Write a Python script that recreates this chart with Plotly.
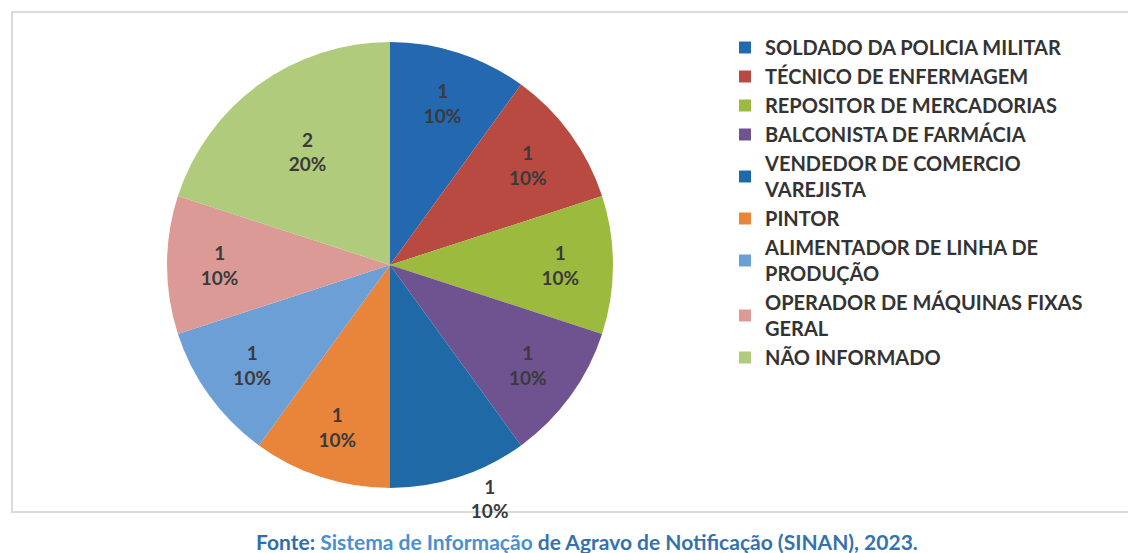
import plotly.graph_objects as go

ocupacoes = [
    "SOLDADO DA POLICIA MILITAR",
    "TÉCNICO DE ENFERMAGEM",
    "REPOSITOR DE MERCADORIAS",
    "BALCONISTA DE FARMÁCIA",
    "VENDEDOR DE COMERCIO<br>VAREJISTA",
    "PINTOR",
    "ALIMENTADOR DE LINHA DE<br>PRODUÇÃO",
    "OPERADOR DE MÁQUINAS FIXAS<br>GERAL",
    "NÃO INFORMADO",
]
casos = [1, 1, 1, 1, 1, 1, 1, 1, 2]

cores = ["#2468b0", "#b84a41", "#9bba3e", "#6f5290", "#1f6aa6",
         "#e9853b", "#6c9fd6", "#dc9a96", "#b0cb7c"]

posicoes = ["inside", "inside", "inside", "inside", "outside",
            "inside", "inside", "inside", "inside"]

W, H = 1128, 553

fig = go.Figure(go.Pie(
    labels=ocupacoes,
    values=casos,
    sort=False,
    direction="clockwise",
    rotation=0,
    marker=dict(colors=cores, line=dict(width=0)),
    texttemplate="%{value}<br>%{percent:.0%}",
    textposition=posicoes,
    insidetextorientation="horizontal",
    textfont=dict(family="Lato", size=19, color="#3a3a3a", weight="bold"),
    domain=dict(x=[167/W, 613/W], y=[(H-488)/H, (H-42)/H]),
    hoverinfo="label+value+percent",
))

# moldura do gráfico
fig.add_shape(type="rect", xref="paper", yref="paper",
              x0=12/W, x1=1.02, y0=(H-512)/H, y1=(H-12)/H,
              line=dict(color="#dadada", width=2), layer="below")

fig.add_annotation(
    text=("<span style='color:#2f6ea8'>Fonte:</span> "
          "<span style='color:#4a8fd0'>Sistema de Informação</span> "
          "<span style='color:#3572ad'>de Agravo de Notificação (SINAN), 2023.</span>"),
    xref="paper", yref="paper", x=587/W, y=(H-541)/H,
    xanchor="center", yanchor="middle", showarrow=False,
    font=dict(family="Lato", size=21, weight="bold"),
)

fig.update_layout(
    width=W, height=H,
    margin=dict(l=0, r=0, t=0, b=0),
    paper_bgcolor="white",
    plot_bgcolor="white",
    showlegend=True,
    legend=dict(
        x=725/W, y=(H-28)/H, xanchor="left", yanchor="top",
        font=dict(family="Lato", size=20, color="#333333", weight="bold"),
        valign="middle",
        bgcolor="rgba(0,0,0,0)",
    ),
)

fig.write_html("out.html", config={"displayModeBar": False},
               post_script="document.body.style.margin='0';")
